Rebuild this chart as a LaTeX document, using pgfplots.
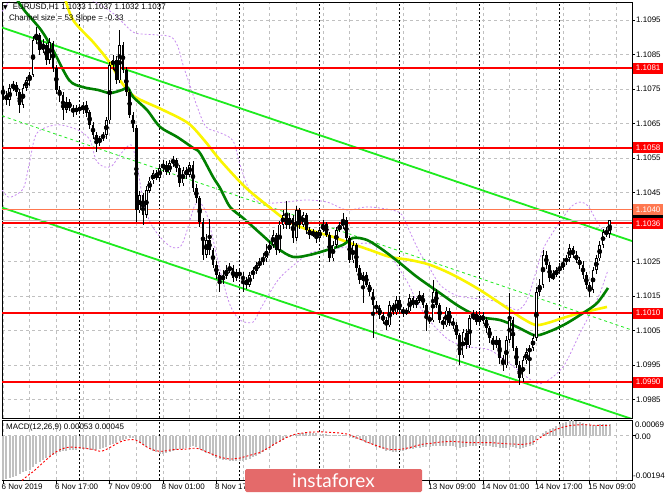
\documentclass[border=0pt]{standalone}
\usepackage{pgfplots}
\pgfplotsset{compat=1.18}
\usepackage{pgfplotstable}
\usepackage{fontspec}
\setmainfont{Liberation Sans}
\newfontfamily\dejavu{DejaVu Sans}
\newfontfamily\lato{Lato}
\definecolor{mtred}{RGB}{255,0,0}
\definecolor{mtcoral}{RGB}{255,120,80}
\definecolor{mtlime}{RGB}{30,235,30}
\definecolor{mtgreen}{RGB}{0,128,0}
\definecolor{mtyellow}{RGB}{250,245,0}
\definecolor{mtviolet}{RGB}{200,140,240}
\definecolor{mtgrid}{RGB}{192,192,192}
\definecolor{mthist}{RGB}{192,192,192}
\definecolor{wmark}{RGB}{228,106,106}

\pgfplotstableread{
i o h l c
0 1.10753 1.10760 1.10720 1.10733
1 1.10733 1.10745 1.10705 1.10718
2 1.10718 1.10765 1.10700 1.10753
3 1.10753 1.10775 1.10745 1.10762
4 1.10762 1.10770 1.10730 1.10741
5 1.10741 1.10750 1.10680 1.10704
6 1.10704 1.10765 1.10695 1.10753
7 1.10753 1.10785 1.10745 1.10776
8 1.10776 1.10800 1.10760 1.10791
9 1.10791 1.10905 1.10785 1.10892
10 1.10892 1.10930 1.10880 1.10907
11 1.10907 1.10915 1.10850 1.10863
12 1.10863 1.10895 1.10855 1.10878
13 1.10878 1.10885 1.10820 1.10834
14 1.10834 1.10900 1.10825 1.10886
15 1.10886 1.10890 1.10800 1.10811
16 1.10811 1.10820 1.10735 1.10747
17 1.10747 1.10760 1.10715 1.10733
18 1.10733 1.10740 1.10660 1.10689
19 1.10689 1.10725 1.10680 1.10712
20 1.10712 1.10720 1.10685 1.10695
21 1.10695 1.10705 1.10670 1.10683
22 1.10683 1.10705 1.10675 1.10695
23 1.10695 1.10705 1.10680 1.10689
24 1.10689 1.10715 1.10680 1.10706
25 1.10706 1.10715 1.10670 1.10683
26 1.10683 1.10690 1.10635 1.10646
27 1.10646 1.10655 1.10605 1.10617
28 1.10617 1.10625 1.10567 1.10596
29 1.10596 1.10615 1.10585 1.10608
30 1.10608 1.10625 1.10600 1.10617
31 1.10617 1.10670 1.10605 1.10660
32 1.10660 1.10830 1.10650 1.10820
33 1.10820 1.10850 1.10805 1.10834
34 1.10834 1.10845 1.10765 1.10776
35 1.10776 1.10921 1.10770 1.10878
36 1.10878 1.10885 1.10795 1.10805
37 1.10805 1.10815 1.10730 1.10741
38 1.10741 1.10750 1.10665 1.10675
39 1.10675 1.10685 1.10625 1.10637
40 1.10637 1.10645 1.10364 1.10399
41 1.10399 1.10455 1.10390 1.10443
42 1.10443 1.10450 1.10356 1.10385
43 1.10385 1.10470 1.10375 1.10457
44 1.10457 1.10495 1.10450 1.10486
45 1.10486 1.10515 1.10475 1.10506
46 1.10506 1.10515 1.10485 1.10492
47 1.10492 1.10530 1.10485 1.10521
48 1.10521 1.10545 1.10510 1.10530
49 1.10530 1.10540 1.10500 1.10509
50 1.10509 1.10545 1.10500 1.10535
51 1.10535 1.10555 1.10525 1.10544
52 1.10544 1.10550 1.10510 1.10521
53 1.10521 1.10530 1.10465 1.10477
54 1.10477 1.10525 1.10470 1.10515
55 1.10515 1.10525 1.10490 1.10501
56 1.10501 1.10540 1.10495 1.10530
57 1.10530 1.10540 1.10450 1.10463
58 1.10463 1.10475 1.10420 1.10434
59 1.10434 1.10440 1.10350 1.10364
60 1.10364 1.10375 1.10255 1.10269
61 1.10269 1.10330 1.10260 1.10312
62 1.10312 1.10375 1.10270 1.10283
63 1.10283 1.10290 1.10230 1.10240
64 1.10240 1.10250 1.10200 1.10211
65 1.10211 1.10220 1.10161 1.10196
66 1.10196 1.10225 1.10185 1.10208
67 1.10208 1.10240 1.10200 1.10225
68 1.10225 1.10245 1.10215 1.10231
69 1.10231 1.10240 1.10190 1.10202
70 1.10202 1.10230 1.10195 1.10219
71 1.10219 1.10230 1.10200 1.10208
72 1.10208 1.10220 1.10161 1.10196
73 1.10196 1.10205 1.10170 1.10182
74 1.10182 1.10220 1.10175 1.10211
75 1.10211 1.10235 1.10200 1.10225
76 1.10225 1.10250 1.10215 1.10240
77 1.10240 1.10260 1.10230 1.10248
78 1.10248 1.10275 1.10240 1.10260
79 1.10260 1.10300 1.10250 1.10283
80 1.10283 1.10310 1.10275 1.10298
81 1.10298 1.10340 1.10290 1.10327
82 1.10327 1.10335 1.10270 1.10283
83 1.10283 1.10370 1.10275 1.10356
84 1.10356 1.10400 1.10345 1.10385
85 1.10385 1.10428 1.10345 1.10356
86 1.10356 1.10390 1.10345 1.10376
87 1.10376 1.10385 1.10305 1.10318
88 1.10318 1.10414 1.10310 1.10399
89 1.10399 1.10405 1.10345 1.10356
90 1.10356 1.10395 1.10350 1.10385
91 1.10385 1.10390 1.10330 1.10341
92 1.10341 1.10350 1.10315 1.10327
93 1.10327 1.10345 1.10320 1.10335
94 1.10335 1.10340 1.10305 1.10318
95 1.10318 1.10350 1.10310 1.10341
96 1.10341 1.10370 1.10335 1.10358
97 1.10358 1.10365 1.10320 1.10327
98 1.10327 1.10335 1.10250 1.10260
99 1.10260 1.10310 1.10250 1.10298
100 1.10298 1.10350 1.10290 1.10341
101 1.10341 1.10365 1.10335 1.10353
102 1.10353 1.10390 1.10345 1.10370
103 1.10370 1.10380 1.10310 1.10318
104 1.10318 1.10325 1.10245 1.10254
105 1.10254 1.10310 1.10245 1.10298
106 1.10298 1.10305 1.10220 1.10231
107 1.10231 1.10240 1.10185 1.10196
108 1.10196 1.10220 1.10130 1.10211
109 1.10211 1.10220 1.10175 1.10182
110 1.10182 1.10190 1.10150 1.10161
111 1.10161 1.10170 1.10028 1.10124
112 1.10124 1.10135 1.10100 1.10115
113 1.10115 1.10125 1.10085 1.10095
114 1.10095 1.10105 1.10070 1.10080
115 1.10080 1.10090 1.10050 1.10066
116 1.10066 1.10135 1.10060 1.10124
117 1.10124 1.10130 1.10095 1.10103
118 1.10103 1.10150 1.10095 1.10138
119 1.10138 1.10145 1.10100 1.10109
120 1.10109 1.10120 1.10090 1.10103
121 1.10103 1.10115 1.10095 1.10106
122 1.10106 1.10155 1.10100 1.10144
123 1.10144 1.10150 1.10115 1.10124
124 1.10124 1.10145 1.10115 1.10138
125 1.10138 1.10165 1.10130 1.10153
126 1.10153 1.10160 1.10115 1.10124
127 1.10124 1.10130 1.10051 1.10086
128 1.10086 1.10095 1.10070 1.10080
129 1.10080 1.10196 1.10075 1.10161
130 1.10161 1.10170 1.10115 1.10124
131 1.10124 1.10130 1.10070 1.10080
132 1.10080 1.10090 1.10055 1.10066
133 1.10066 1.10120 1.10060 1.10109
134 1.10109 1.10115 1.10065 1.10074
135 1.10074 1.10085 1.10055 1.10066
136 1.10066 1.10075 1.10025 1.10037
137 1.10037 1.10045 1.09950 1.09979
138 1.09979 1.10055 1.09970 1.10045
139 1.10045 1.10055 1.09995 1.10008
140 1.10008 1.10095 1.10000 1.10086
141 1.10086 1.10110 1.10080 1.10097
142 1.10097 1.10105 1.10065 1.10074
143 1.10074 1.10105 1.10065 1.10095
144 1.10095 1.10105 1.10070 1.10080
145 1.10080 1.10090 1.10045 1.10057
146 1.10057 1.10065 1.10015 1.10028
147 1.10028 1.10035 1.09995 1.10008
148 1.10008 1.10035 1.10000 1.10022
149 1.10022 1.10030 1.09955 1.09970
150 1.09970 1.09980 1.09935 1.09950
151 1.09950 1.10035 1.09940 1.10022
152 1.10022 1.10158 1.10015 1.10080
153 1.10080 1.10090 1.09990 1.09999
154 1.09999 1.10005 1.09940 1.09950
155 1.09950 1.09960 1.09892 1.09912
156 1.09912 1.09975 1.09900 1.09964
157 1.09964 1.10000 1.09955 1.09987
158 1.09987 1.10010 1.09926 1.09999
159 1.09999 1.10040 1.09990 1.10028
160 1.10028 1.10175 1.10020 1.10161
161 1.10161 1.10200 1.10150 1.10182
162 1.10182 1.10283 1.10175 1.10269
163 1.10269 1.10280 1.10230 1.10240
164 1.10240 1.10250 1.10190 1.10202
165 1.10202 1.10225 1.10195 1.10211
166 1.10211 1.10235 1.10205 1.10225
167 1.10225 1.10245 1.10215 1.10231
168 1.10231 1.10260 1.10225 1.10248
169 1.10248 1.10270 1.10240 1.10260
170 1.10260 1.10303 1.10250 1.10289
171 1.10289 1.10295 1.10260 1.10269
172 1.10269 1.10280 1.10245 1.10254
173 1.10254 1.10265 1.10230 1.10240
174 1.10240 1.10250 1.10200 1.10211
175 1.10211 1.10220 1.10170 1.10182
176 1.10182 1.10190 1.10147 1.10167
177 1.10167 1.10235 1.10160 1.10225
178 1.10225 1.10270 1.10215 1.10260
179 1.10260 1.10310 1.10250 1.10298
180 1.10298 1.10345 1.10290 1.10335
181 1.10335 1.10350 1.10320 1.10330
182 1.10330 1.10370 1.10320 1.10370
}\candles

\pgfplotstableread{
i m s
0 -0.00194 -0.00260
1 -0.00190 -0.00250
2 -0.00185 -0.00240
3 -0.00180 -0.00230
4 -0.00175 -0.00220
5 -0.00168 -0.00205
6 -0.00160 -0.00192
7 -0.00155 -0.00180
8 -0.00148 -0.00168
9 -0.00138 -0.00158
10 -0.00125 -0.00145
11 -0.00115 -0.00132
12 -0.00105 -0.00118
13 -0.00098 -0.00105
14 -0.00090 -0.00092
15 -0.00085 -0.00080
16 -0.00080 -0.00070
17 -0.00072 -0.00062
18 -0.00068 -0.00056
19 -0.00065 -0.00052
20 -0.00063 -0.00050
21 -0.00062 -0.00050
22 -0.00061 -0.00051
23 -0.00060 -0.00052
24 -0.00060 -0.00054
25 -0.00060 -0.00056
26 -0.00061 -0.00058
27 -0.00062 -0.00060
28 -0.00062 -0.00064
29 -0.00060 -0.00068
30 -0.00055 -0.00066
31 -0.00048 -0.00060
32 -0.00040 -0.00052
33 -0.00035 -0.00044
34 -0.00032 -0.00036
35 -0.00025 -0.00028
36 -0.00020 -0.00022
37 -0.00016 -0.00019
38 -0.00012 -0.00017
39 -0.00012 -0.00017
40 -0.00020 -0.00020
41 -0.00030 -0.00028
42 -0.00040 -0.00038
43 -0.00048 -0.00048
44 -0.00058 -0.00056
45 -0.00065 -0.00062
46 -0.00072 -0.00066
47 -0.00078 -0.00068
48 -0.00078 -0.00068
49 -0.00076 -0.00066
50 -0.00072 -0.00063
51 -0.00068 -0.00061
52 -0.00064 -0.00060
53 -0.00060 -0.00060
54 -0.00056 -0.00060
55 -0.00052 -0.00058
56 -0.00048 -0.00057
57 -0.00046 -0.00055
58 -0.00048 -0.00055
59 -0.00056 -0.00058
60 -0.00066 -0.00064
61 -0.00074 -0.00070
62 -0.00082 -0.00076
63 -0.00090 -0.00082
64 -0.00096 -0.00088
65 -0.00102 -0.00093
66 -0.00106 -0.00097
67 -0.00108 -0.00100
68 -0.00110 -0.00102
69 -0.00111 -0.00102
70 -0.00112 -0.00100
71 -0.00111 -0.00098
72 -0.00110 -0.00094
73 -0.00106 -0.00090
74 -0.00100 -0.00086
75 -0.00094 -0.00082
76 -0.00088 -0.00078
77 -0.00080 -0.00074
78 -0.00072 -0.00066
79 -0.00064 -0.00058
80 -0.00055 -0.00050
81 -0.00045 -0.00040
82 -0.00038 -0.00032
83 -0.00028 -0.00024
84 -0.00018 -0.00016
85 -0.00010 -0.00008
86 -0.00004 -0.00002
87 0.00002 0.00004
88 0.00008 0.00008
89 0.00012 0.00010
90 0.00014 0.00012
91 0.00014 0.00014
92 0.00013 0.00016
93 0.00012 0.00016
94 0.00010 0.00017
95 0.00009 0.00017
96 0.00009 0.00017
97 0.00008 0.00016
98 0.00004 0.00015
99 0.00003 0.00014
100 0.00004 0.00013
101 0.00005 0.00012
102 0.00005 0.00010
103 0.00002 0.00008
104 -0.00004 0.00004
105 -0.00008 -0.00002
106 -0.00014 -0.00008
107 -0.00020 -0.00014
108 -0.00025 -0.00020
109 -0.00030 -0.00026
110 -0.00036 -0.00032
111 -0.00042 -0.00038
112 -0.00048 -0.00043
113 -0.00054 -0.00048
114 -0.00060 -0.00053
115 -0.00066 -0.00057
116 -0.00068 -0.00060
117 -0.00070 -0.00061
118 -0.00070 -0.00061
119 -0.00068 -0.00060
120 -0.00066 -0.00058
121 -0.00064 -0.00055
122 -0.00060 -0.00052
123 -0.00058 -0.00048
124 -0.00055 -0.00044
125 -0.00052 -0.00040
126 -0.00050 -0.00037
127 -0.00050 -0.00035
128 -0.00050 -0.00034
129 -0.00046 -0.00032
130 -0.00045 -0.00030
131 -0.00045 -0.00028
132 -0.00045 -0.00027
133 -0.00044 -0.00026
134 -0.00045 -0.00025
135 -0.00046 -0.00025
136 -0.00048 -0.00026
137 -0.00052 -0.00027
138 -0.00050 -0.00028
139 -0.00050 -0.00029
140 -0.00046 -0.00030
141 -0.00044 -0.00030
142 -0.00043 -0.00030
143 -0.00042 -0.00030
144 -0.00043 -0.00030
145 -0.00044 -0.00030
146 -0.00046 -0.00030
147 -0.00048 -0.00031
148 -0.00049 -0.00032
149 -0.00052 -0.00033
150 -0.00055 -0.00034
151 -0.00052 -0.00035
152 -0.00048 -0.00036
153 -0.00050 -0.00036
154 -0.00053 -0.00037
155 -0.00056 -0.00038
156 -0.00054 -0.00038
157 -0.00050 -0.00036
158 -0.00045 -0.00033
159 -0.00040 -0.00028
160 -0.00020 -0.00020
161 -0.00004 -0.00010
162 0.00012 0.00000
163 0.00022 0.00008
164 0.00030 0.00015
165 0.00036 0.00022
166 0.00042 0.00028
167 0.00050 0.00033
168 0.00056 0.00038
169 0.00062 0.00041
170 0.00068 0.00044
171 0.00069 0.00046
172 0.00066 0.00047
173 0.00062 0.00048
174 0.00058 0.00048
175 0.00053 0.00048
176 0.00048 0.00047
177 0.00047 0.00046
178 0.00048 0.00046
179 0.00050 0.00045
180 0.00052 0.00045
181 0.00053 0.00045
182 0.00053 0.00045
}\macd

\pgfplotsset{
  mtframe/.style={
    scale only axis, width=630pt,
    xmin=-0.3, xmax=188.7,
    axis line style={black, line width=0.8pt},
    tick style={black, line width=0.6pt},
    major grid style={mtgrid, line width=0.7pt, dash pattern=on 3pt off 3pt},
    minor grid style={mtgrid, line width=0.7pt, dash pattern=on 3pt off 3pt},
    every tick label/.append style={font=\fontsize{8}{9}\selectfont},
    extra x ticks={23,47,71,95,119,143,167},
    extra x tick labels={},
    extra x tick style={grid=major, major tick length=0pt,
      major grid style={black, line width=0.7pt, dash pattern=on 2pt off 2pt}},
  },
  level/.style={draw={rgb,255:red,255;green,0;blue,0}, line width=2pt, forget plot},
}
\tikzset{
  lvl/.style={inner sep=0pt, minimum width=30pt, minimum height=11pt,
    anchor=west, text=white, font=\fontsize{8}{9}\selectfont},
}

\begin{document}
\begin{tikzpicture}
\path[use as bounding box, fill=white] (0pt,0pt) rectangle (665pt,499pt);

% ---------------- main price panel ----------------
\begin{axis}[mtframe,
  at={(2pt,81pt)}, anchor=south west, height=416pt,
  ymin=1.09796, ymax=1.11002,
  xtick={0,8,...,184}, xticklabels={}, xmajorgrids,
  xtick style={draw=none},
  ytick={1.0985,1.0995,1.1005,1.1015,1.1025,1.1035,1.1045,1.1055,1.1065,1.1075,1.1085,1.1095},
  yticklabels={1.0985,1.0995,1.1005,1.1015,1.1025,1.1035,1.1045,1.1055,1.1065,1.1075,1.1085,1.1095},
  ymajorgrids, ytick pos=right, yticklabel pos=right, tick align=outside,
  major tick length=3pt, scaled y ticks=false,
  yticklabel style={anchor=west, inner sep=1pt, xshift=0pt},
]
% Bollinger bands (violet dashed)
\addplot[mtviolet, line width=0.8pt, dash pattern=on 2pt off 2pt, smooth, forget plot] coordinates {
(-0.9,1.10965) (2.1,1.11008) (5.1,1.11037) (14.1,1.11052) (23.1,1.11023) (29.1,1.10994)
(33.6,1.10965) (36.6,1.10936) (39.6,1.10912) (45.6,1.10907) (50.4,1.10901) (52.5,1.10872)
(54,1.10820) (56.1,1.10760) (58.2,1.10700) (60.9,1.10640) (65.1,1.10623) (69.0,1.10600)
(71.1,1.10530) (73.2,1.10472) (75.6,1.10428) (79.8,1.10419) (84.9,1.10422) (90.9,1.10428)
(97.2,1.10422) (103.2,1.10399) (109.2,1.10408) (116.7,1.10399) (119.7,1.10385) (122.1,1.10335)
(125.1,1.10274) (127.8,1.10234) (131.1,1.10182) (135.6,1.10153) (140.1,1.10144) (146.1,1.10138)
(150.6,1.10124) (154.5,1.10109) (157.2,1.10138) (159.6,1.10210) (162,1.10285) (164.7,1.10330)
(167.1,1.10364) (170.4,1.10408) (173.1,1.10422) (175.5,1.10411) (177.9,1.10370) (180.3,1.10335)
(181.5,1.10327)};
\addplot[mtviolet, line width=0.8pt, dash pattern=on 2pt off 2pt, smooth, forget plot] coordinates {
(-0.9,1.10466) (1.5,1.10437) (3.9,1.10443) (6.3,1.10466) (8.1,1.10544) (10.2,1.10622)
(16.2,1.10646) (22.5,1.10631) (26.1,1.10602) (27.9,1.10544) (30.3,1.10524) (32.7,1.10527)
(35.1,1.10559) (38.4,1.10588) (40.2,1.10530) (42,1.10428) (44.1,1.10364) (47.1,1.10321)
(50.4,1.10292) (53.1,1.10292) (54.6,1.10321) (56.1,1.10370) (57.6,1.10414) (59.1,1.10420)
(60.9,1.10393) (62.7,1.10327) (65.1,1.10225) (68.1,1.10124) (71.1,1.10080) (75,1.10074)
(77.4,1.10115) (82.5,1.10196) (87.3,1.10240) (92.1,1.10274) (97.2,1.10283) (103.2,1.10292)
(109.2,1.10303) (115.5,1.10274) (121.5,1.10187) (123.9,1.10138) (127.8,1.10080) (133.8,1.10022)
(139.8,1.10002) (146.1,1.09993) (153.3,1.09944) (158.4,1.09906) (162,1.09897) (168,1.09944)
(173.1,1.10042) (176.7,1.10109) (179.1,1.10158) (181.5,1.10225)};
% regression channel
\addplot[mtlime, line width=1.8pt, forget plot] coordinates {(-0.3,1.10928) (188.7,1.10309)};
\addplot[mtlime, line width=1.8pt, forget plot] coordinates {(-0.3,1.10406) (188.7,1.09793)};
\addplot[mtlime, line width=0.8pt, dash pattern=on 3pt off 3pt, forget plot] coordinates {(-0.3,1.10672) (188.7,1.10051)};
% moving averages
\addplot[mtyellow, line width=2.6pt, smooth, forget plot] coordinates {
(18.3,1.11023) (21,1.10950) (27.3,1.10883) (32.1,1.10825) (35.7,1.10767) (39.6,1.10727)
(48,1.10689) (55.5,1.10651) (60.3,1.10602) (65.1,1.10544) (72.6,1.10466) (79.8,1.10408)
(84.9,1.10370) (90,1.10347) (95.1,1.10332) (99,1.10321) (104.1,1.10303)
(110.1,1.10283) (116.1,1.10263) (122.1,1.10254) (128.1,1.10240) (135,1.10211) (143.1,1.10167)
(152.1,1.10109) (155.1,1.10089) (159.6,1.10066) (163.2,1.10071) (168,1.10086) (173.1,1.10100)
(181.2,1.10118)};
\addplot[mtgreen, line width=2.6pt, smooth, forget plot] coordinates {
(3.3,1.11023) (6.3,1.10979) (11.4,1.10921) (15,1.10863) (19.8,1.10776) (23.7,1.10756)
(28.5,1.10747) (32.1,1.10738) (35.7,1.10747) (37.5,1.10753) (39,1.10727) (43.2,1.10689)
(47.1,1.10640) (52.2,1.10611) (57,1.10579) (59.1,1.10564) (63,1.10495) (65.1,1.10463)
(68.1,1.10408) (72,1.10376) (77.1,1.10332) (82.2,1.10289) (87,1.10263) (92.1,1.10269)
(97.2,1.10283) (102,1.10298) (105,1.10318) (109.2,1.10312) (114,1.10283) (119.1,1.10245)
(124.2,1.10205) (131.1,1.10158) (137.1,1.10118) (143.1,1.10089) (149.1,1.10080) (154.2,1.10060)
(159,1.10037) (161.1,1.10037) (165,1.10051) (169.2,1.10071) (174,1.10100) (178.2,1.10129)
(181.5,1.10173)};
% horizontal levels
\addplot[level] coordinates {(-1,1.10810) (190,1.10810)};
\addplot[level] coordinates {(-1,1.10580) (190,1.10580)};
\addplot[draw={rgb,255:red,255;green,120;blue,80}, line width=1.6pt, forget plot] coordinates {(-1,1.10400) (190,1.10400)};
\addplot[mtgrid, line width=0.8pt, forget plot] coordinates {(-1,1.10370) (190,1.10370)};
\addplot[level] coordinates {(-1,1.10360) (190,1.10360)};
\addplot[level] coordinates {(-1,1.10100) (190,1.10100)};
\addplot[level] coordinates {(-1,1.09900) (190,1.09900)};
% candles: wicks
\addplot[only marks, mark=none, forget plot,
  error bars/.cd, y dir=both, y explicit, error mark=none,
  error bar style={draw=black, line width=0.9pt}]
  table[x=i, y expr={(\thisrow{h}+\thisrow{l})/2}, y error expr={(\thisrow{h}-\thisrow{l})/2}] {\candles};
% candles: bodies
\addplot[only marks, mark=none, forget plot,
  error bars/.cd, y dir=both, y explicit, error mark=none,
  error bar style={draw=black, line width=2.8pt}]
  table[x=i, y expr={(\thisrow{o}+\thisrow{c})/2}, y error expr={max(abs(\thisrow{c}-\thisrow{o})/2,0.000015)}] {\candles};
% bullish bodies hollow
\addplot[only marks, mark=none, forget plot,
  error bars/.cd, y dir=both, y explicit, error mark=none,
  error bar style={draw=white, line width=1.0pt}]
  table[x=i, y expr={(\thisrow{c}-\thisrow{o}>0.00005) ? (\thisrow{o}+\thisrow{c})/2 : nan}, y error expr={(\thisrow{c}-\thisrow{o})/2-0.00002}] {\candles};
\coordinate (c1081) at (axis cs:189,1.1081);
\coordinate (c1058) at (axis cs:189,1.1058);
\coordinate (c1040) at (axis cs:189,1.1040);
\coordinate (c1037) at (axis cs:189,1.1037);
\coordinate (c1036) at (axis cs:189,1.1036);
\coordinate (c1010) at (axis cs:189,1.1010);
\coordinate (c0990) at (axis cs:189,1.0990);
\end{axis}

% ---------------- MACD panel ----------------
\begin{axis}[mtframe,
  at={(2pt,19pt)}, anchor=south west, height=60pt,
  ymin=-0.00194, ymax=0.00069,
  xtick={0,16,...,176},
  xticklabels={6 Nov 2019,6 Nov 17:00,7 Nov 09:00,8 Nov 01:00,8 Nov 17:00,,,,13 Nov 09:00,14 Nov 01:00,14 Nov 17:00,15 Nov 09:00},
  minor xtick={8,24,...,184},
  xmajorgrids, xminorgrids,
  xtick pos=bottom, tick align=outside, major tick length=4pt, minor tick length=0pt,
  xticklabel style={anchor=north west, xshift=-2.5pt, yshift=1pt, inner sep=1pt},
  ytick={0}, yticklabels={}, ymajorgrids, ytick pos=right,
  scaled y ticks=false,
]
\addplot[ycomb, mthist, line width=2.1pt, forget plot] table[x=i, y=m] {\macd};
\addplot[draw={rgb,255:red,255;green,0;blue,0}, line width=0.9pt, dash pattern=on 2pt off 2pt, forget plot] table[x=i, y=s] {\macd};
\end{axis}

% ---------------- level labels ----------------
\node[lvl, fill={rgb,255:red,255;green,0;blue,0}] at (c1081) {1.1081};
\node[lvl, fill={rgb,255:red,255;green,0;blue,0}] at (c1058) {1.1058};
\node[lvl, fill=black] at (c1037) {};
\node[lvl, fill={rgb,255:red,255;green,120;blue,80}] at (c1040) {1.1040};
\node[lvl, fill={rgb,255:red,255;green,0;blue,0}] at (c1036) {1.1036};
\node[lvl, fill={rgb,255:red,255;green,0;blue,0}] at (c1010) {1.1010};
\node[lvl, fill={rgb,255:red,255;green,0;blue,0}] at (c0990) {1.0990};

% MACD scale labels
\node[anchor=west, inner sep=0pt, font=\fontsize{8}{9}\selectfont] at (635pt,74pt) {0.00069};
\node[anchor=west, inner sep=0pt, font=\fontsize{8}{9}\selectfont] at (635pt,62pt) {0.00};
\node[anchor=west, inner sep=0pt, font=\fontsize{8}{9}\selectfont] at (633pt,23pt) {-0.00194};

% headers
\node[anchor=west, inner sep=0pt, font=\fontsize{8}{9}\selectfont] at (3pt,491.5pt) {{\dejavu\fontsize{6}{6}\selectfont ▼}\hspace{5pt}EURUSD,H1 1.1033 1.1037 1.1032 1.1037};
\node[anchor=west, inner sep=0pt, font=\fontsize{8}{9}\selectfont] at (9pt,481pt) {Channel size = 53 Slope = -0.33};
\node[anchor=west, inner sep=0pt, font=\fontsize{8}{9}\selectfont] at (6pt,72pt) {MACD(12,26,9) 0.00053 0.00045};

% watermark
\fill[wmark, rounded corners=1.5pt] (245pt,7pt) rectangle (422pt,30pt);
\node[text=white, font=\lato\fontsize{19}{19}\selectfont, inner sep=0pt] at (333.5pt,18.5pt) {instaforex};
\end{tikzpicture}
\end{document}
